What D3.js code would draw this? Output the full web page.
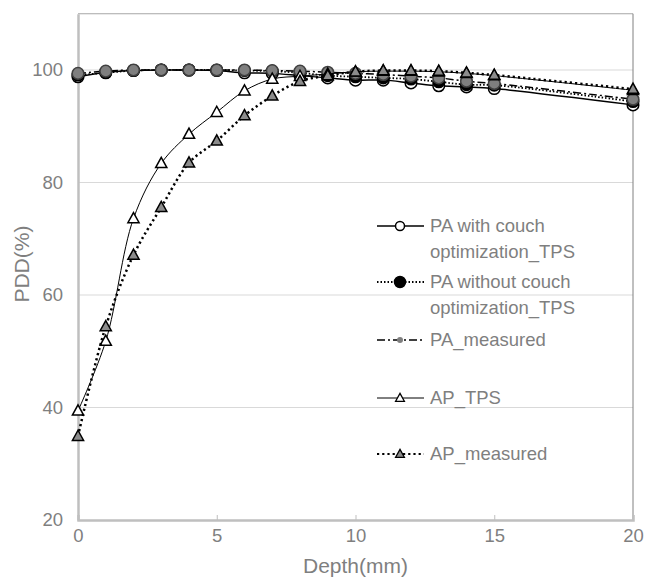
<!DOCTYPE html>
<html><head><meta charset="utf-8">
<script src="https://cdn.jsdelivr.net/npm/d3@7"></script>
<style>body{margin:0;background:#fff;} svg{display:block;} text{font-family:"Liberation Sans",Arial,sans-serif;fill:#7f7f7f;}</style>
</head><body><svg id="c" width="646" height="580"></svg>
<script>
const depth = [0,1,2,3,4,5,6,7,8,9,10,11,12,13,14,15,20];
const paWith = [98.8,99.6,99.9,100,100,99.9,99.5,99.4,99.0,98.6,98.2,98.2,97.7,97.2,97.0,96.7,93.8];
const paWithout = [99.1,99.5,99.9,100,100,100,99.9,99.8,99.5,99.0,98.8,98.6,98.4,97.9,97.4,97.3,94.4];
const paMeas = [99.4,99.8,100,100,100,100,100,99.9,99.8,99.6,99.4,99.2,98.9,98.6,98.0,97.6,94.8];
const apTps = [39.4,51.8,73.6,83.4,88.6,92.5,96.3,98.4,98.9,99.3,99.7,99.8,99.8,99.7,99.4,99.0,96.4];
const apMeas = [34.9,54.4,67.1,75.6,83.5,87.4,91.9,95.4,98.0,99.0,99.7,99.9,99.9,99.8,99.5,99.1,96.6];
const xTicks = [0,5,10,15,20];
const yTicks = [20,40,60,80,100];
const seriesNames = [["PA with couch","optimization_TPS"],["PA without couch","optimization_TPS"],["PA_measured"],["AP_TPS"],["AP_measured"]];

const svg = d3.select("#c");
const x = d3.scaleLinear().domain([0,20]).range([78,633]);
const y = d3.scaleLinear().domain([20,110]).range([520,13.75]);

// gridlines
svg.append("g").selectAll("line").data(yTicks.filter(d=>d>20)).join("line")
  .attr("x1",x(0)).attr("x2",x(20)).attr("y1",d=>y(d)).attr("y2",d=>y(d))
  .attr("stroke","#d9d9d9").attr("stroke-width",1);
// border top/right
svg.append("line").attr("x1",x(0)).attr("x2",x(20)).attr("y1",y(110)).attr("y2",y(110)).attr("stroke","#a6a6a6").attr("stroke-width",1);
svg.append("line").attr("x1",x(20)).attr("x2",x(20)).attr("y1",y(110)).attr("y2",y(20)).attr("stroke","#808080").attr("stroke-width",1);

// axes
const xAxis = d3.axisBottom(x).tickValues(xTicks).tickSize(-5).tickPadding(10);
const gx = svg.append("g").attr("transform",`translate(0,${y(20)})`).call(xAxis);
gx.select(".domain").attr("stroke","#bfbfbf").attr("stroke-width",2.5);
gx.selectAll(".tick line").attr("stroke","#bfbfbf").attr("stroke-width",1);
gx.selectAll(".tick text").attr("font-size",18.5).attr("fill","#7f7f7f").attr("dy","0.75em").attr("y",8)
  .style("font-family","'Liberation Sans',Arial,sans-serif");
const yAxis = d3.axisLeft(y).tickValues(yTicks).tickSize(0).tickPadding(15);
const gy = svg.append("g").attr("transform",`translate(${x(0)},0)`).call(yAxis);
gy.select(".domain").attr("stroke","#bfbfbf").attr("stroke-width",2.5);
gy.selectAll(".tick text").attr("font-size",18.5).attr("fill","#7f7f7f")
  .style("font-family","'Liberation Sans',Arial,sans-serif");

// titles
svg.append("text").attr("x",(x(0)+x(20))/2).attr("y",573).attr("text-anchor","middle").attr("font-size",21).text("Depth(mm)");
svg.append("text").attr("transform",`translate(29,${y(65.5)}) rotate(-90)`).attr("text-anchor","middle").attr("font-size",21).text("PDD(%)");

const curve = d3.curveCatmullRom.alpha(0.5);
const styles = [
  {vals:paWith, dash:null, w:1.5, marker:"circle", fill:"#fff", stroke:"#000", r:5.8, lr:4.5},
  {vals:paWithout, dash:"1.5,2", w:1.8, marker:"circle", fill:"#000", stroke:"#000", r:5.8, lr:5.5},
  {vals:paMeas, dash:"8,3,2,3", w:1.5, marker:"circle", fill:"#7f7f7f", stroke:"#404040", r:5.8, lr:3},
  {vals:apTps, dash:null, w:1, marker:"tri", fill:"#fff", stroke:"#000", r:7, lr:5.5},
  {vals:apMeas, dash:"2.2,3", w:2.5, marker:"tri", fill:"#8c8c8c", stroke:"#000", r:7, lr:5.5}
];
const triPath = (s)=>`M0,${-s*0.85}L${s*0.8},${s*0.6}L${-s*0.8},${s*0.6}Z`;

styles.forEach(st=>{
  const pts = depth.map((d,i)=>[d,st.vals[i]]);
  const line = d3.line().x(d=>x(d[0])).y(d=>y(d[1])).curve(curve);
  svg.append("path").attr("d",line(pts)).attr("fill","none").attr("stroke","#000")
    .attr("stroke-width",st.w).attr("stroke-dasharray",st.dash);
  const g = svg.append("g");
  if(st.marker==="circle"){
    g.selectAll("circle").data(pts).join("circle").attr("cx",d=>x(d[0])).attr("cy",d=>y(d[1]))
      .attr("r",st.r).attr("fill",st.fill).attr("stroke",st.stroke).attr("stroke-width",1.5);
  } else {
    g.selectAll("path").data(pts).join("path").attr("transform",d=>`translate(${x(d[0])},${y(d[1])})`)
      .attr("d",triPath(st.r)).attr("fill",st.fill).attr("stroke",st.stroke).attr("stroke-width",1.5);
  }
});

// legend
const legY = [226,282,340,398,454];
const lg = svg.append("g");
styles.forEach((st,i)=>{
  const ly = legY[i];
  lg.append("line").attr("x1",377).attr("x2",424).attr("y1",ly).attr("y2",ly).attr("stroke","#000")
    .attr("stroke-width",Math.min(st.w,1.8)).attr("stroke-dasharray",st.dash);
  if(st.marker==="circle"){
    lg.append("circle").attr("cx",400).attr("cy",ly).attr("r",st.lr).attr("fill",st.fill)
      .attr("stroke",i===2?"none":st.stroke).attr("stroke-width",1.5);
  } else {
    lg.append("path").attr("transform",`translate(400,${ly})`).attr("d",triPath(st.lr))
      .attr("fill",st.fill).attr("stroke",st.stroke).attr("stroke-width",1.3);
  }
  seriesNames[i].forEach((t,j)=>{
    lg.append("text").attr("x",430).attr("y",ly+j*26).attr("dy","0.35em").attr("font-size",18.5).text(t);
  });
});
</script></body></html>
